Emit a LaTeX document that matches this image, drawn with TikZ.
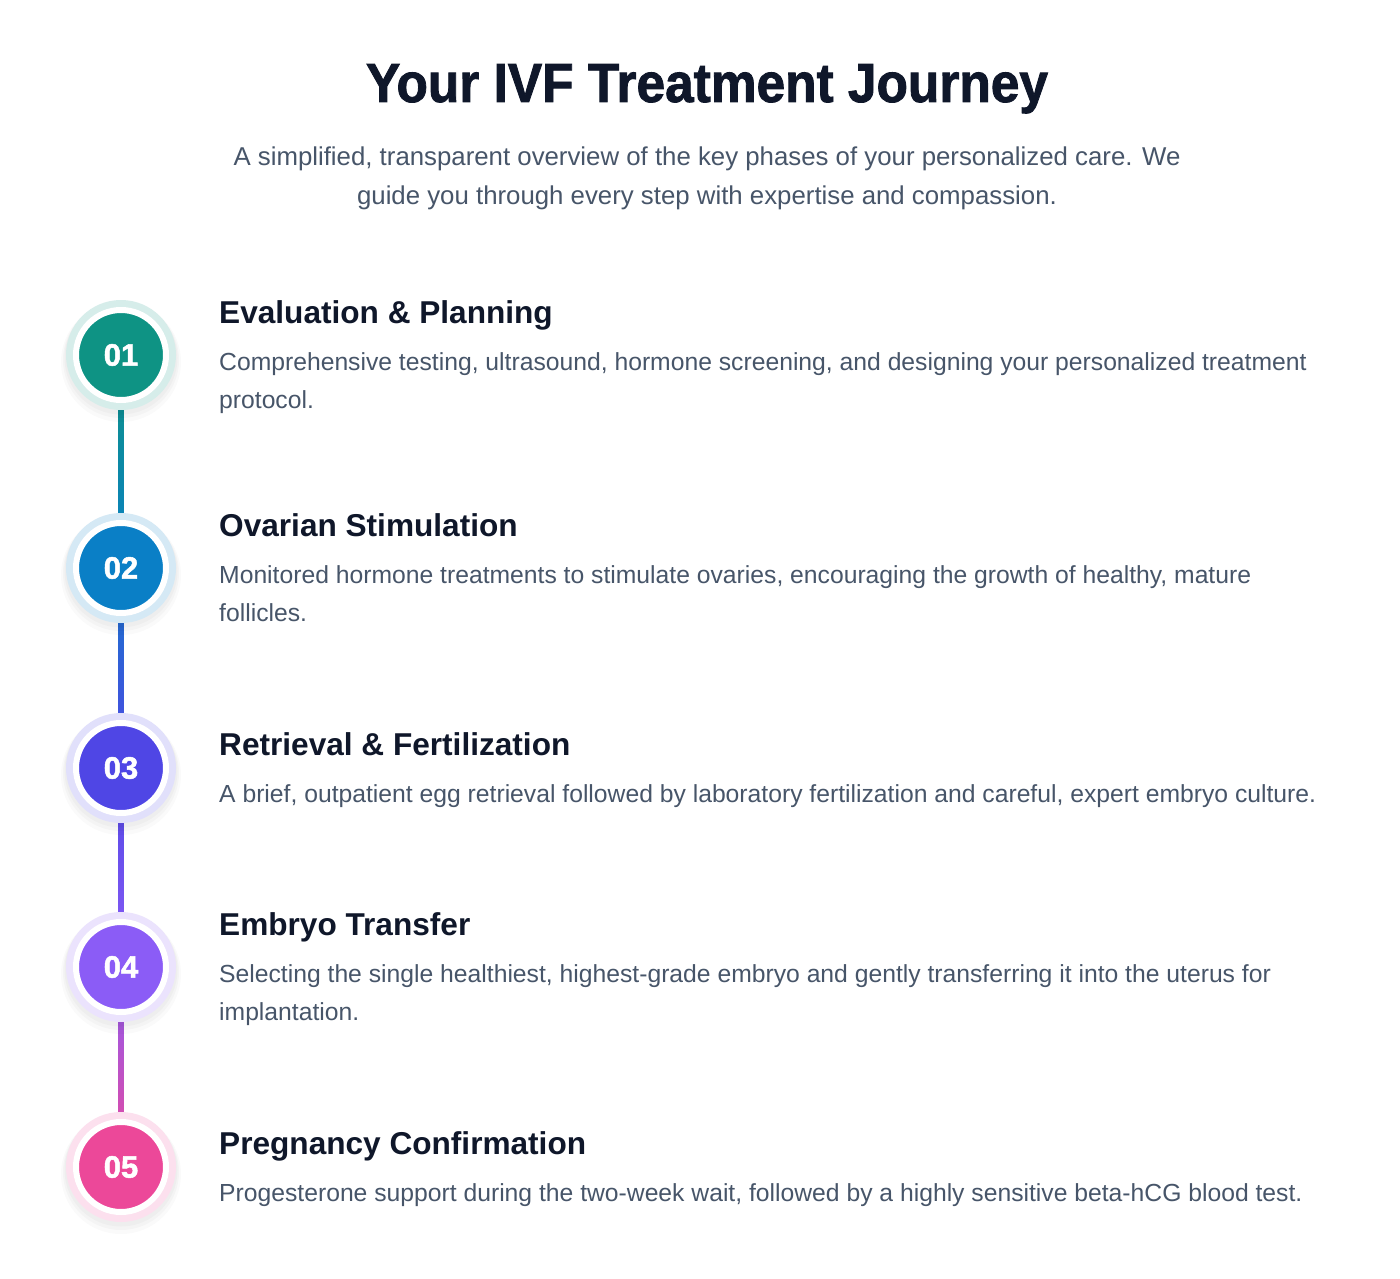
\documentclass[tikz,border=0pt]{standalone}
\usepackage{fontspec}
\setmainfont{Liberation Sans}
\newfontfamily\heavyfont{Liberation Sans}[BoldFeatures={FakeBold=1.6}]
\usetikzlibrary{calc,backgrounds}
\definecolor{ink}{HTML}{0F172A}
\definecolor{muted}{HTML}{475569}
\definecolor{cA}{HTML}{0E9384}
\definecolor{cB}{HTML}{0A7FC6}
\definecolor{cC}{HTML}{4F46E5}
\definecolor{cD}{HTML}{8B5CF6}
\definecolor{cE}{HTML}{EC4899}
\tikzset{
  halo/.style={circle, minimum size=110pt, inner sep=0pt, fill=#1!17!white},
  badge/.style={circle, minimum size=90pt, inner sep=0pt, fill=#1, draw=white, line width=6pt,
    text=white, font=\fontsize{31}{31}\selectfont\heavyfont\bfseries},
  heading/.style={anchor=base west, inner sep=0pt, text=ink, font=\fontsize{31.6}{36}\selectfont\bfseries},
  desc/.style={anchor=base west, inner sep=0pt, text=muted, font=\fontsize{24.7}{38}\selectfont},
  subtitle/.style={anchor=base, inner sep=0pt, text=muted, font=\fontsize{25.8}{39}\selectfont}
}
\newcommand{\stepbadge}[4]{%
  \fill[black, opacity=0.018] (#3+0,#4+7) circle (60pt);
  \fill[black, opacity=0.022] (#3+0,#4+5) circle (58pt);
  \fill[black, opacity=0.025] (#3+0,#4+3) circle (56.5pt);
  \node[halo=#2] (h#1) at (#3,#4) {};
  \node[badge=#2] (n#1) at (#3,#4) {0#1};
}
\begin{document}
\begin{tikzpicture}[x=1pt,y=-1pt]
\useasboundingbox (0,0) rectangle (1400,1279);
% title
\node[anchor=base, inner sep=0pt, text=ink, font=\fontsize{55}{60}\selectfont\heavyfont\bfseries] (title) at (707,102) {\scalebox{0.935}[1]{Your IVF Treatment Journey}};
\node[subtitle] (sub1) at (707,165) {A simplified, transparent overview of the key phases of your personalized care. We};
\node[subtitle] (sub2) at (707,204) {guide you through every step with expertise and compassion.};
% badges
\stepbadge{1}{cA}{121}{355}
\stepbadge{2}{cB}{121}{568}
\stepbadge{3}{cC}{121}{768}
\stepbadge{4}{cD}{121}{967}
\stepbadge{5}{cE}{121}{1167}
% connectors
\begin{scope}[on background layer]
\fill[white] (0,0) rectangle (1400,1279);
\shade[top color=cA, bottom color=cB] ($(n1.center)+(-2.5,0)$) rectangle ($(n2.center)+(2.5,0)$);
\shade[top color=cB!85!cC, bottom color=cC] ($(n2.center)+(-2.5,0)$) rectangle ($(n3.center)+(2.5,0)$);
\shade[top color=cC, bottom color=cD] ($(n3.center)+(-2.5,0)$) rectangle ($(n4.center)+(2.5,0)$);
\shade[top color=cD, bottom color=cE] ($(n4.center)+(-2.5,0)$) rectangle ($(n5.center)+(2.5,0)$);
\end{scope}
% texts
\node[heading] (t1) at (219,323) {Evaluation \& Planning};
\node[desc] (d1a) at (219,370) {Comprehensive testing, ultrasound, hormone screening, and designing your personalized treatment};
\node[desc] (d1b) at (219,408) {protocol.};
\node[heading] (t2) at (219,536) {Ovarian Stimulation};
\node[desc] (d2a) at (219,583) {Monitored hormone treatments to stimulate ovaries, encouraging the growth of healthy, mature};
\node[desc] (d2b) at (219,621) {follicles.};
\node[heading] (t3) at (219,755) {Retrieval \& Fertilization};
\node[desc] (d3a) at (219,802) {A brief, outpatient egg retrieval followed by laboratory fertilization and careful, expert embryo culture.};
\node[heading] (t4) at (219,935) {Embryo Transfer};
\node[desc] (d4a) at (219,982) {Selecting the single healthiest, highest-grade embryo and gently transferring it into the uterus for};
\node[desc] (d4b) at (219,1020) {implantation.};
\node[heading] (t5) at (219,1154) {Pregnancy Confirmation};
\node[desc] (d5a) at (219,1201) {Progesterone support during the two-week wait, followed by a highly sensitive beta-hCG blood test.};
\end{tikzpicture}
\end{document}
